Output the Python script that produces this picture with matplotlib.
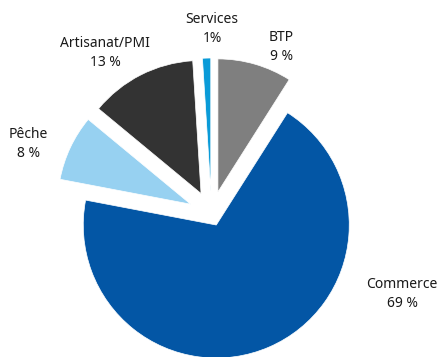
import matplotlib
matplotlib.use('Agg')
import matplotlib.pyplot as plt

# Données : répartition par secteur (%)
secteurs = ['BTP', 'Commerce', 'Pêche', 'Artisanat/PMI', 'Services']
valeurs = [9, 69, 8, 13, 1]
etiquettes_pct = ['9 %', '69 %', '8 %', '13 %', '1%']
couleurs = ['#7f7f7f', '#0356a5', '#97d1f1', '#333333', '#0a9bd8']

# Mise en page (pixels de l'image, y vers le bas)
W, H = 440, 357
centre = (211.5, 214)
rayon = 133
# décalage des parts en pixels (explode n'est pas relatif au rayon)
explosion = [23, 12, 23, 23, 23]
pos_etiquettes = [(281, 47), (402, 294), (28, 144), (105, 53), (212, 29)]

plt.rcParams['font.family'] = ['Noto Sans', 'DejaVu Sans']

fig = plt.figure(figsize=(W / 100, H / 100), dpi=100)
ax = fig.add_axes([0, 0, 1, 1])

ax.pie(valeurs, colors=couleurs, explode=explosion, startangle=90,
       counterclock=False, radius=rayon, center=(centre[0], H - centre[1]),
       wedgeprops={'edgecolor': 'white', 'linewidth': 0.5})

# Etiquettes des secteurs
for nom, pct, (x, y) in zip(secteurs, etiquettes_pct, pos_etiquettes):
    ax.text(x, H - y, f'{nom}\n{pct}', ha='center', va='center',
            fontsize=10, color='#1a1a1a', linespacing=1.35,
            multialignment='center')

ax.set_xlim(0, W)
ax.set_ylim(0, H)
ax.set_aspect('equal')
ax.axis('off')

fig.savefig('out.png', dpi=100)
